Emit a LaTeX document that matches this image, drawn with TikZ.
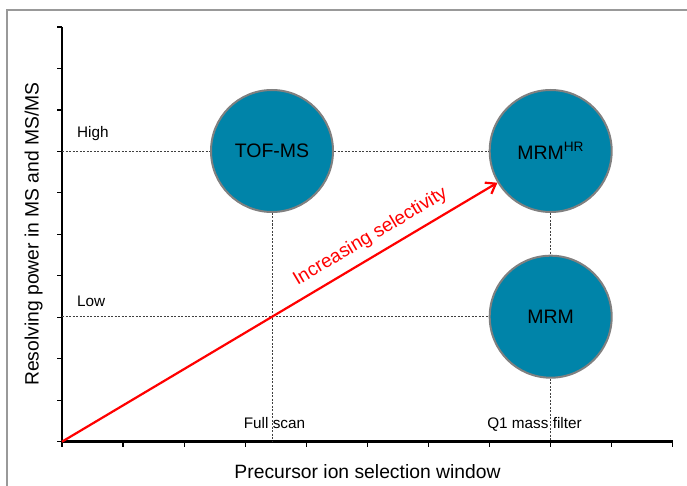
\documentclass[tikz,border=0pt]{standalone}
\usepackage{fontspec}
\setmainfont{Liberation Sans}
\usetikzlibrary{arrows.meta,positioning}
\definecolor{instrblue}{HTML}{0084A9}
\tikzset{>={Straight Barb[length=9pt,width=13pt]}}
\tikzset{instrument/.style={circle,draw=black!50,line width=2pt,fill=instrblue,minimum size=122pt,inner sep=0pt,font=\fontsize{19.5}{22}\selectfont}}
\tikzset{guide/.style={draw=black!75,line width=0.6pt,dash pattern=on 2pt off 1.5pt}}
\tikzset{ticklabel/.style={font=\fontsize{15.3}{17}\selectfont,inner sep=0pt}}
\tikzset{axistitle/.style={font=\fontsize{19.3}{22}\selectfont,inner sep=0pt}}

\begin{document}
\begin{tikzpicture}[x=1pt,y=-1pt]
    \useasboundingbox (0,0) rectangle (687,486);
    % frame
    \draw[black!40,line width=1.5pt] (7,486) -- (7,10) -- (687,10);
    % axes
    \coordinate (o) at (62,441.7);
    \coordinate (ytop) at (62,27);
    \coordinate (xend) at (672.7,441.7);
    \draw[line width=2.5pt] (ytop) -- (o) -- (xend);
    \foreach \i in {0,...,10}
        \draw[line width=1.2pt] (62,27+41.47*\i) -- ++(-5,0);
    \foreach \i in {0,...,10}
        \draw[line width=1.2pt] (62+61.07*\i,441.7) -- ++(0,5);
    % instruments
    \node[instrument] (tof) at (272,151) {TOF-MS};
    \node[instrument] (hr) at (550.7,151) {MRM\textsuperscript{HR}};
    \node[instrument] (mrm) at (550.7,316.7) {MRM};
    % guides
    \coordinate (high) at (62,151);
    \coordinate (low) at (62,316.7);
    \coordinate (fs) at (272,441.7);
    \coordinate (q1) at (550.7,441.7);
    \draw[guide] (high) -- (tof) (tof) -- (hr) (low) -- (mrm)
        (tof) -- (fs) (hr) -- (mrm) (mrm) -- (q1);
    % labels
    \node[ticklabel,anchor=base west] (hi) at (77,138) {High};
    \node[ticklabel,anchor=base west] (lo) at (77,306) {Low};
    \node[ticklabel,anchor=base] (fsl) at (274.5,428) {Full scan};
    \node[ticklabel,anchor=base] (q1l) at (534.5,428) {Q1 mass filter};
    \node[axistitle,anchor=base] (xt) at (367.5,478) {Precursor ion selection window};
    \node[axistitle,rotate=90,anchor=base] (yt) at (38.5,234) {Resolving power in MS and MS/MS};
    % selectivity
    \draw[->,red,line width=2.2pt] (o) -- (hr)
        node[pos=.73,sloped,above=5pt,font=\fontsize{19}{21}\selectfont] (sel) {Increasing selectivity};
\end{tikzpicture}
\end{document}
